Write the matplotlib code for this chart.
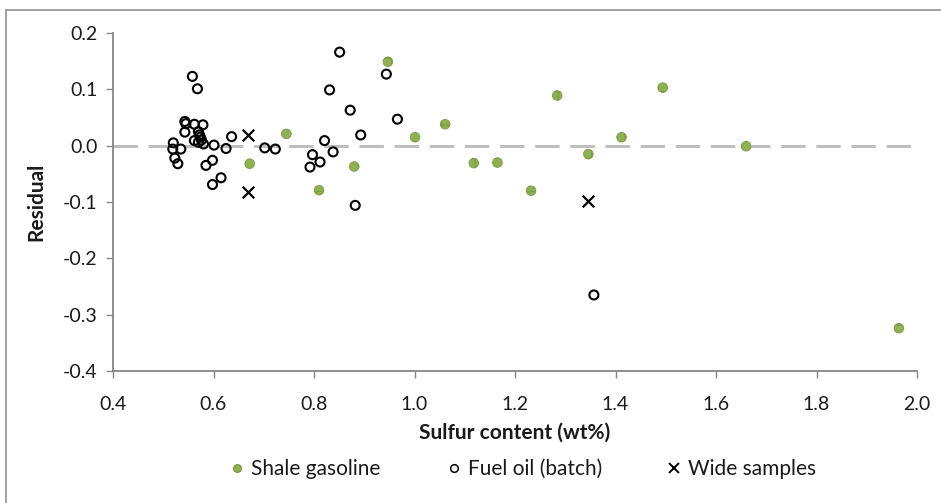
import matplotlib
matplotlib.use("Agg")
import matplotlib.pyplot as plt
from matplotlib.lines import Line2D
from matplotlib.patches import Rectangle

plt.rcParams['font.family'] = ['Lato', 'DejaVu Sans']

# Residuals vs. sulfur content
shale_x = [0.672, 0.745, 0.810, 0.880, 0.947, 1.001, 1.061, 1.118, 1.165,
           1.232, 1.284, 1.346, 1.412, 1.494, 1.660, 1.964]
shale_y = [-0.032, 0.021, -0.079, -0.037, 0.149, 0.015, 0.038, -0.031, -0.030,
           -0.080, 0.089, -0.015, 0.015, 0.103, -0.001, -0.324]

fuel_x = [0.558, 0.568, 0.543, 0.545, 0.562, 0.579, 0.543, 0.570, 0.572, 0.574,
          0.562, 0.576, 0.570, 0.580, 0.601, 0.625, 0.636, 0.520, 0.519, 0.535,
          0.523, 0.529, 0.585, 0.598, 0.615, 0.598, 0.702, 0.723, 0.851, 0.944,
          0.831, 0.872, 0.966, 0.893, 0.821, 0.838, 0.797, 0.812, 0.792, 0.882,
          1.357]
fuel_y = [0.123, 0.101, 0.043, 0.039, 0.038, 0.037, 0.024, 0.025, 0.019, 0.015,
          0.009, 0.010, 0.006, 0.003, 0.001, -0.005, 0.016, 0.005, -0.006, -0.006,
          -0.022, -0.032, -0.035, -0.026, -0.057, -0.069, -0.004, -0.006, 0.166, 0.127,
          0.099, 0.063, 0.047, 0.019, 0.009, -0.011, -0.016, -0.029, -0.038, -0.106,
          -0.265]

wide_x = [0.669, 0.669, 1.346]
wide_y = [0.019, -0.082, -0.098]

x_ticks = [0.4, 0.6, 0.8, 1.0, 1.2, 1.4, 1.6, 1.8, 2.0]
y_ticks = [-0.4, -0.3, -0.2, -0.1, 0.0, 0.1, 0.2]

series_labels = ['Shale gasoline', 'Fuel oil (batch)', 'Wide samples']

text_color = '#1a1a1a'
axis_color = '#868686'
green_face = '#8fb153'
green_edge = '#7a9c45'

W, H = 941, 503
fig = plt.figure(figsize=(W / 100, H / 100), dpi=100)

# outer chart frame
fig.patches.append(Rectangle((5.5 / W, -0.1), 1.2, 1 - 9.5 / H + 0.1,
                             transform=fig.transFigure, fill=False,
                             edgecolor='#9a9a9a', linewidth=1.3))

ax = fig.add_axes([113 / W, 1 - 371 / H, (917 - 113) / W, (371 - 33) / H])

ax.axhline(0, color='#bfbfbf', linewidth=2.2, dashes=(8, 3.5), zorder=1)

ax.scatter(shale_x, shale_y, s=48, facecolor=green_face, edgecolor=green_edge,
           hatch='+', linewidths=0.6, zorder=3)
ax.scatter(fuel_x, fuel_y, s=42, facecolor='none', edgecolor='black',
           linewidths=1.5, zorder=4)
ax.scatter(wide_x, wide_y, s=70, marker='x', color='black',
           linewidths=1.6, zorder=5)

ax.set_xlim(0.4, 2.0)
ax.set_ylim(-0.4, 0.2)
ax.set_xticks(x_ticks)
ax.set_xticklabels([f'{v:.1f}' for v in x_ticks])
ax.set_yticks(y_ticks)
ax.set_yticklabels([f'{v:.1f}' for v in y_ticks])

for side in ('top', 'right'):
    ax.spines[side].set_visible(False)
for side in ('left', 'bottom'):
    ax.spines[side].set_color(axis_color)
    ax.spines[side].set_linewidth(1.3)

ax.tick_params(axis='both', direction='out', length=5, width=1.0,
               color=axis_color, labelsize=14, labelcolor=text_color)
ax.tick_params(axis='x', pad=13)
ax.tick_params(axis='y', pad=6)

ax.set_xlabel('Sulfur content (wt%)', fontsize=15, fontweight='bold',
              color=text_color, labelpad=7)
ax.set_ylabel('Residual', fontsize=15, fontweight='bold',
              color=text_color, labelpad=12)

# legend: one entry per series, placed along the bottom
handles = [
    Line2D([], [], linestyle='none', marker='o', markersize=5.5,
           markerfacecolor=green_face, markeredgecolor=green_edge),
    Line2D([], [], linestyle='none', marker='o', markersize=5.5,
           markerfacecolor='none', markeredgecolor='black', markeredgewidth=1.1),
    Line2D([], [], linestyle='none', marker='x', markersize=7,
           color='black', markeredgewidth=1.4),
]
entry_px = [229, 446, 666]
for h, lab, px in zip(handles, series_labels, entry_px):
    fig.legend([h], [lab], loc='center left',
               bbox_to_anchor=(px / W, 1 - 469 / H),
               frameon=False, fontsize=15, handlelength=0.8,
               handletextpad=0.25, borderpad=0, borderaxespad=0,
               labelcolor=text_color)

fig.savefig('out.png', dpi=100)
